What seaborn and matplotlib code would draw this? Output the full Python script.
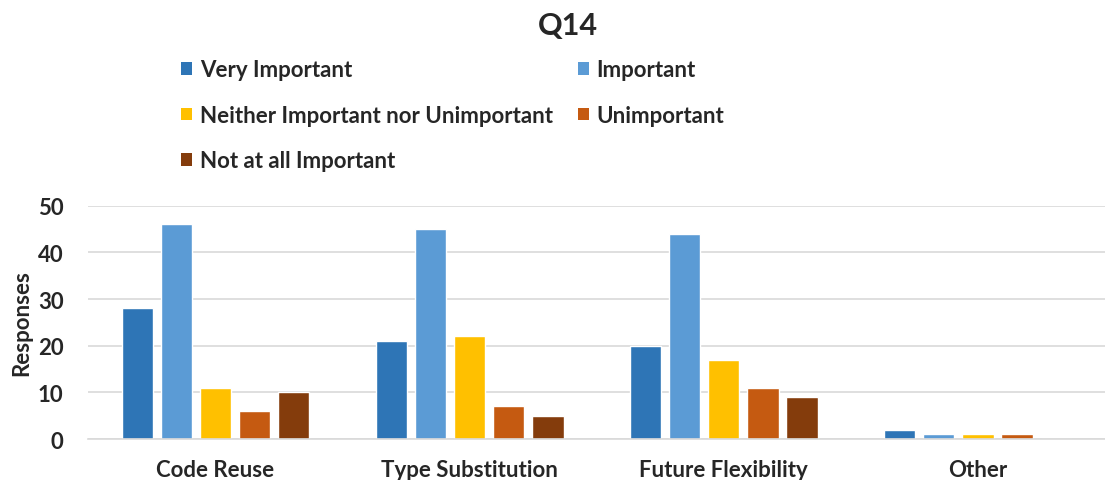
import matplotlib
matplotlib.use("Agg")
import matplotlib.pyplot as plt
import seaborn as sns
import pandas as pd
from matplotlib.patches import Patch

categories = ["Code Reuse", "Type Substitution", "Future Flexibility", "Other"]
levels = ["Very Important", "Important", "Neither Important nor Unimportant",
          "Unimportant", "Not at all Important"]
very_important = [28, 21, 20, 2]
important = [46, 45, 44, 1]
neither = [11, 22, 17, 1]
unimportant = [6, 7, 11, 1]
not_at_all = [10, 5, 9, 0]
colors = ["#2E75B6", "#5B9BD5", "#FFC000", "#C55A11", "#843C0C"]

series = [very_important, important, neither, unimportant, not_at_all]
rows = []
for lvl, vals in zip(levels, series):
    for cat, v in zip(categories, vals):
        rows.append({"Category": cat, "Level": lvl, "Responses": v})
df = pd.DataFrame(rows)

sns.set_theme(style="white")
plt.rcParams["font.family"] = ["Lato", "DejaVu Sans"]
plt.rcParams["font.weight"] = "bold"

fig = plt.figure(figsize=(11.05, 4.81), dpi=100)
ax = fig.add_axes([0.08, 0.085, 0.92, 0.485])

sns.barplot(data=df, x="Category", y="Responses", hue="Level",
            hue_order=levels, order=categories, palette=colors,
            width=0.77, gap=0.2, ax=ax, legend=False, saturation=1)

ax.set_ylim(0, 50)
ax.set_xlim(-0.5, 3.5)
ax.set_yticks([0, 10, 20, 30, 40, 50])
ax.yaxis.grid(True, color="#D9D9D9", linewidth=1.2)
ax.set_axisbelow(True)
for s in ["top", "right", "left"]:
    ax.spines[s].set_visible(False)
ax.spines["bottom"].set_color("#D9D9D9")
ax.spines["bottom"].set_linewidth(1.2)
ax.tick_params(axis="y", length=0, labelsize=16, pad=18)
ax.tick_params(axis="x", length=0, labelsize=16, pad=14)
for lab in ax.get_xticklabels() + ax.get_yticklabels():
    lab.set_fontweight("bold")
ax.set_xlabel("")
ax.set_ylabel("Responses", fontsize=16, fontweight="bold", labelpad=4)

fig.text(0.514, 0.945, "Q14", ha="center", va="center", fontsize=22, fontweight="bold")

handles = [Patch(facecolor=c, edgecolor="none") for c in colors]
order = [0, 2, 4, 1, 3]
leg = fig.legend([handles[i] for i in order], [levels[i] for i in order],
                 ncol=2, loc="upper left", bbox_to_anchor=(0.156, 0.893),
                 frameon=False, prop={"weight": "bold", "size": 16},
                 handlelength=0.5, handleheight=0.5, handletextpad=0.35,
                 labelspacing=1.1, columnspacing=1.1, borderaxespad=0)

fig.savefig("out.png", dpi=100)
